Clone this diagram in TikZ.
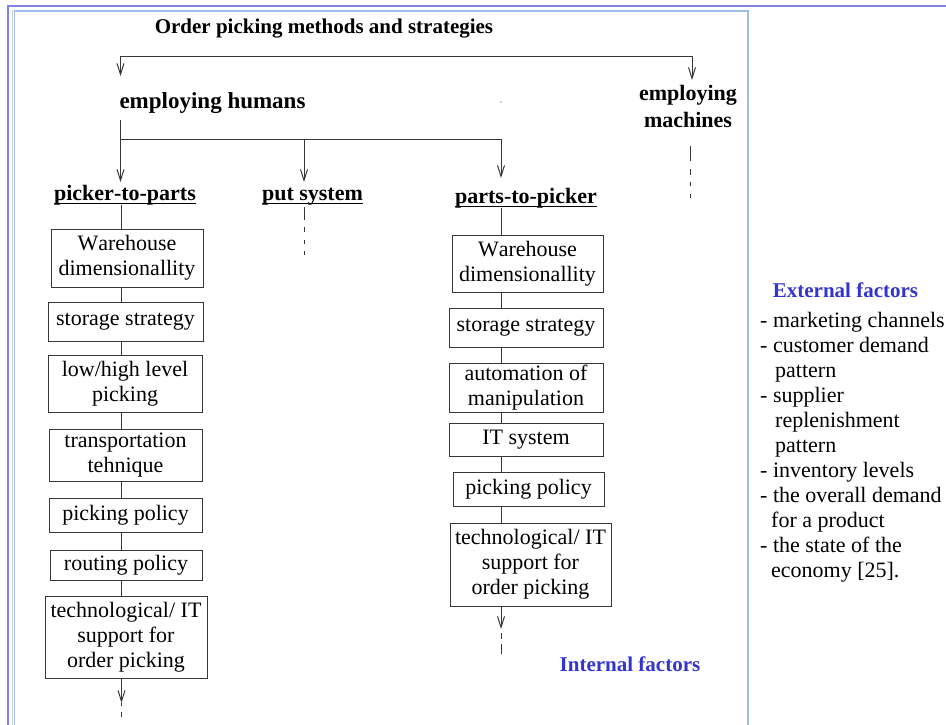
\documentclass[tikz,border=0pt]{standalone}
\usepackage{fontspec}
\setmainfont{Liberation Serif}[Kerning=Off, Ligatures=NoCommon]
\usetikzlibrary{arrows.meta,calc}
\definecolor{framepurple}{RGB}{130,130,228}
\definecolor{frameblue}{RGB}{158,190,232}
\definecolor{framegray}{RGB}{205,205,215}
\definecolor{labelblue}{RGB}{52,52,206}
\definecolor{linegray}{RGB}{55,55,55}
\begin{document}
\begin{tikzpicture}[x=1pt,y=-1pt,
  stepbox/.style n args={2}{draw=linegray, line width=1pt, inner sep=0pt, align=center,
    font=\fontsize{22}{24.8}\selectfont, minimum width=#1, minimum height=#2},
  conn/.style={draw=linegray, line width=1pt},
  arr/.style={conn, -{Straight Barb[length=11pt,width=7pt]}},
  headlbl/.style={inner sep=0pt, anchor=base, font=\fontsize{22}{24}\selectfont\bfseries},
  bluelbl/.style={inner sep=0pt, anchor=base, text=labelblue, font=\fontsize{21}{24}\selectfont\bfseries},
  uline/.style={draw=black, line width=1.3pt}
]
\useasboundingbox (0,0) rectangle (946,724);

% frames
\draw[framepurple, line width=2pt] (8,730) -- (8,6) -- (950,6);
\draw[framegray, line width=1pt] (12.2,730) -- (12.2,10);
\draw[frameblue, line width=1.6pt] (14.3,730) -- (14.3,11) -- (748,11) -- (748,730);

% title and first level
\node[headlbl, font=\fontsize{21}{24}\selectfont\bfseries] (title) at (324,33) {Order picking methods and strategies};
\node[headlbl, font=\fontsize{23}{26}\selectfont\bfseries] (hum) at (212.5,108) {employing humans};
\node[inner sep=0pt, anchor=north, align=center, font=\fontsize{22}{27}\selectfont\bfseries] (mach) at (688,85) {employing\\machines};

\coordinate (topL) at (120.5,56);
\coordinate (topR) at (692,56);
\coordinate (humIn) at (120.5,76);
\coordinate (machIn) at (692,80);
\draw[conn] (topL) -- (topR);
\draw[arr] (topL) -- (humIn);
\draw[arr] (topR) -- (machIn);

\coordinate (machOut) at (690,146);
\coordinate (machEnd) at (690,200);
\draw[conn, dash pattern=on 15pt off 8pt on 6pt off 7pt on 4pt off 8pt on 4pt] (machOut) -- (machEnd);

\fill[gray!70] (501,102) circle (0.8);

% second level
\coordinate (humOut) at (120.5,120);
\coordinate (split) at (120.5,139);
\coordinate (splitP) at (304,139);
\coordinate (splitR) at (501,139);
\coordinate (ptpIn) at (120.5,182);
\coordinate (putIn) at (304,182);
\coordinate (ptkIn) at (501,178);
\draw[conn] (humOut) -- (split) -- (splitR);
\draw[arr] (split) -- (ptpIn);
\draw[arr] (splitP) -- (putIn);
\draw[arr] (splitR) -- (ptkIn);

\node[headlbl] (ptp) at (125,200) {picker-to-parts};
\node[headlbl] (put) at (312.5,200) {put system};
\node[headlbl] (ptk) at (526,203) {parts-to-picker};
\foreach \n in {ptp,put,ptk}
  \draw[uline] ([yshift=-3.5pt]\n.base west) -- ([yshift=-3.5pt]\n.base east);

\coordinate (putOut) at (304,207);
\coordinate (putEnd) at (304,259);
\draw[conn, dash pattern=on 13pt off 7pt on 5pt off 8pt on 4pt off 7pt on 4pt] (putOut) -- (putEnd);

% picker-to-parts column
\coordinate (cL) at (121.5,0);
\node[stepbox={152}{58}] (L1) at (127,258) {Warehouse\\dimensionallity};
\node[stepbox={155}{39}] (L2) at (125.5,321.5) {storage strategy};
\node[stepbox={154}{57}] (L3) at (125,383.5) {low/high level\\picking};
\node[stepbox={153}{52}] (L4) at (125.5,455) {transportation\\tehnique};
\node[stepbox={153}{34}] (L5) at (125.5,515) {picking policy};
\node[stepbox={152}{30}] (L6) at (126,565) {routing policy};
\node[stepbox={162}{82}] (L7) at (126,637) {technological/ IT\\support for\\order picking};
\draw[conn] (ptp.south -| cL) -- (L1.north -| cL);
\foreach \a/\b in {L1/L2,L2/L3,L3/L4,L4/L5,L5/L6,L6/L7}
  \draw[conn] (\a.south -| cL) -- (\b.north -| cL);
\coordinate (endL) at (121.5,703);
\coordinate (endL2) at (121.5,717);
\draw[arr] (L7.south -| cL) -- (endL);
\draw[conn, dash pattern=on 3pt off 6pt on 5pt] (endL) -- (endL2);

% parts-to-picker column
\coordinate (cR) at (501,0);
\node[stepbox={151}{57}] (R1) at (527.5,263.5) {Warehouse\\dimensionallity};
\node[stepbox={154}{39}] (R2) at (526,327.5) {storage strategy};
\node[stepbox={154}{49}] (R3) at (526,387.5) {automation of\\manipulation};
\node[stepbox={154}{33}] (R4) at (526,439.5) {IT system};
\node[stepbox={151}{34}] (R5) at (528.5,489) {picking policy};
\node[stepbox={161}{83}] (R6) at (530.5,564.5) {technological/ IT\\support for\\order picking};
\draw[conn] (ptk.south -| cR) -- (R1.north -| cR);
\foreach \a/\b in {R1/R2,R2/R3,R3/R4,R4/R5,R5/R6}
  \draw[conn] (\a.south -| cR) -- (\b.north -| cR);
\coordinate (endR) at (501,629);
\coordinate (endR2) at (501,654);
\draw[arr] (R6.south -| cR) -- (endR);
\draw[conn, dash pattern=on 0pt off 4pt on 6pt off 5pt on 10pt] (endR) -- (endR2);

% factor labels
\node[bluelbl] (internal) at (630,671) {Internal factors};
\node[bluelbl] (external) at (845.5,297) {External factors};
\node[inner sep=0pt, anchor=north west, align=left, font=\fontsize{22}{25}\selectfont] (extlist) at (760,312)
 {- marketing channels\\
  - customer demand\\
  \hspace*{15pt}pattern\\
  - supplier\\
  \hspace*{15pt}replenishment\\
  \hspace*{15pt}pattern\\
  - inventory levels\\
  - the overall demand\\
  \hspace*{11pt}for a product\\
  - the state of the\\
  \hspace*{11pt}economy [25].};
\end{tikzpicture}
\end{document}
